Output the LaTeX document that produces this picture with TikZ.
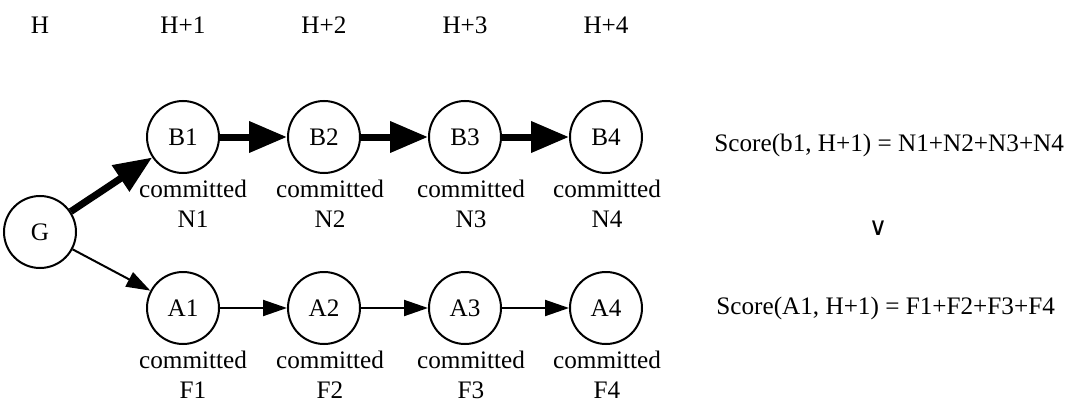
\documentclass[tikz,border=0pt]{standalone}
\usepackage{fontspec}
\setmainfont{Liberation Serif}
\newfontfamily\symfont{DejaVu Sans}
\usetikzlibrary{arrows.meta}
\begin{document}
\begin{tikzpicture}[x=0.5pt,y=-0.5pt,
  every node/.style={font=\fontsize{12.6pt}{15pt}\selectfont},
  state/.style={circle,draw,line width=1pt,minimum size=36pt,inner sep=0pt},
  lbl/.style={inner sep=0pt,align=center},
  thickarr/.style={line width=3.5pt,-{Triangle[length=19pt,width=15pt]}},
  thinarr/.style={line width=1pt,-{Triangle[length=12pt,width=8pt]}}]
\useasboundingbox (0,0) rectangle (1075,417);
% headers
\node[lbl] (h0) at (40,25) {H};
\node[lbl] (h1) at (183,25) {H+1};
\node[lbl] (h2) at (324,25) {H+2};
\node[lbl] (h3) at (465,25) {H+3};
\node[lbl] (h4) at (606,25) {H+4};
% nodes
\node[state] (G) at (40,232) {G};
\node[state] (B1) at (183,137) {B1};
\node[state] (B2) at (324,137) {B2};
\node[state] (B3) at (465,137) {B3};
\node[state] (B4) at (606,137) {B4};
\node[state] (A1) at (183,308) {A1};
\node[state] (A2) at (324,308) {A2};
\node[state] (A3) at (465,308) {A3};
\node[state] (A4) at (606,308) {A4};
% labels
\node[lbl] (cb1) at (193,204) {committed\\N1};
\node[lbl] (cb2) at (330,204) {committed\\N2};
\node[lbl] (cb3) at (471,204) {committed\\N3};
\node[lbl] (cb4) at (607,204) {committed\\N4};
\node[lbl] (ca1) at (193,375) {committed\\F1};
\node[lbl] (ca2) at (330,375) {committed\\F2};
\node[lbl] (ca3) at (471,375) {committed\\F3};
\node[lbl] (ca4) at (607,375) {committed\\F4};
% arrows
\draw[thickarr] (G) -- (B1);
\draw[thickarr] (B1) -- (B2);
\draw[thickarr] (B2) -- (B3);
\draw[thickarr] (B3) -- (B4);
\draw[thinarr] (G) -- (A1);
\draw[thinarr] (A1) -- (A2);
\draw[thinarr] (A2) -- (A3);
\draw[thinarr] (A3) -- (A4);
% scores
\node[lbl,anchor=west] (s1) at (714,145) {Score(b1, H+1) = N1+N2+N3+N4};
\node[lbl] (v) at (878,228) {\symfont ∨};
\node[lbl,anchor=west] (s2) at (716,308) {Score(A1, H+1) = F1+F2+F3+F4};
\end{tikzpicture}
\end{document}
